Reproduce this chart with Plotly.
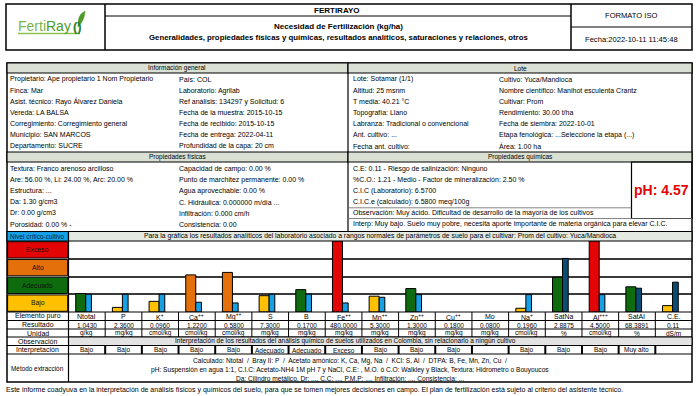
import plotly.graph_objects as go

W, H = 697, 396
FONT = "Liberation Sans, Arial, sans-serif"

# ---------------- data ----------------
elements = ["Ntotal", "P", "K<sup>+</sup>", "Ca<sup>++</sup>", "Mg<sup>++</sup>", "S", "B",
            "Fe<sup>++</sup>", "Mn<sup>++</sup>", "Zn<sup>++</sup>", "Cu<sup>++</sup>", "Mo",
            "Na<sup>+</sup>", "SatNa", "Al<sup>+++</sup>", "SatAl", "C.E."]
results = ["1.0430", "2.3600", "0.0960", "1.2200", "0.5800", "7.3000", "0.1700", "480.0000",
           "5.3000", "1.3000", "0.1800", "0.0800", "0.1960", "2.8875", "4.5000", "68.3891", "0.11"]
units = ["g/kg", "mg/kg", "cmol/kg", "cmol/kg", "cmol/kg", "mg/kg", "mg/kg", "mg/kg", "mg/kg",
         "mg/kg", "mg/kg", "mg/kg", "cmol/kg", "%", "cmol/kg", "%", "dS/m"]
interpretation = ["Bajo", "Bajo", "Bajo", "Bajo", "Bajo", "Adecuado", "Adecuado", "Exceso", "Bajo",
                  "Bajo", "Bajo", "", "Bajo", "Bajo", "Bajo", "Muy alto", ""]
# bar heights on the critical-level scale (0-1 Bajo, 1-2 Adecuado, 2-3 Alto, 3-4 Exceso)
sample_level = [1.04, 0.26, 0.60, 2.09, 2.23, 0.92, 1.26, 4.00, 0.89, 1.32, None, None,
                0.21, 1.96, 4.00, 1.42, 0.36]
reference_level = [1.00, 1.00, 1.00, 0.55, 0.51, 1.00, 1.00, 0.51, 0.83, 0.98, None, None,
                   0.98, 3.02, 0.98, 1.34, 1.68]
levels = ["Bajo", "Adecuado", "Alto", "Exceso"]

info_left = ["Propietario: Ape propietario 1 Nom Propietario", "Finca: Mar",
             "Asist. técnico: Rayo Álvarez Daniela", "Vereda: LA BALSA",
             "Corregimiento: Corregimiento general", "Municipio: SAN MARCOS", "Departamento: SUCRE"]
info_right = ["País: COL", "Laboratorio: Agrilab", "Ref análisis: 134297 y Solicitud: 6",
              "Fecha de la muestra: 2015-10-15", "Fecha de recibido: 2015-10-15",
              "Fecha de entrega: 2022-04-11", "Profundidad de la capa: 20 cm"]
lote_left = ["Lote: Sotamar (1/1)", "Altitud: 25 msnm", "T media: 40.21 °C", "Topografía: Llano",
             "Labranza: Tradicional o convencional", "Ant. cultivo: ...", "Fecha ant. cultivo:"]
lote_right = ["Cultivo: Yuca/Mandioca", "Nombre científico: Manihot esculenta Crantz",
              "Cultivar: Prom", "Rendimiento: 30.00 t/ha", "Fecha de siembra: 2022-10-01",
              "Etapa fenológica: ...Seleccione la etapa (...)", "Área: 1.00 ha"]
phys_left = ["Textura: Franco arenoso arcilloso", "Are: 56.00 %, Li: 24.00 %, Arc: 20.00 %",
             "Estructura: ...", "Da: 1.30 g/cm3", "Dr: 0.00 g/cm3", "Porosidad: 0.00 % -"]
phys_right = ["Capacidad de campo: 0.00 %", "Punto de marchitez permanente: 0.00 %",
              "Agua aprovechable: 0.00 %", "C. Hidráulica: 0.000000 m/día ...",
              "Infiltración: 0.000 cm/h", "Consistencia: 0.00"]
chem_lines = ["C.E: 0.11 - Riesgo de salinización: Ninguno",
              "%C.O.: 1.21 - Medio - Factor de mineralización: 2.50 %",
              "C.I.C (Laboratorio): 6.5700", "C.I.C.e (calculado): 6.5800 meq/100g",
              "Observación: Muy ácido. Dificultad de desarrollo de la mayoría de los cultivos",
              "Interp: Muy bajo. Suelo muy pobre, necesita aporte importante de materia orgánica para elevar C.I.C."]
ph_text = "pH: 4.57"
method_lines = ["Calculado: Ntotal  /  Bray II: P  /  Acetato amónico: K, Ca, Mg, Na  /  KCl: S, Al  /  DTPA: B, Fe, Mn, Zn, Cu  /",
                "pH: Suspensión en agua 1:1, C.I.C: Acetato-NH4 1M pH 7 y NaCl, C.E: , M.O. ó C.O: Walkley y Black, Textura: Hidrometro o Bouyoucos",
                "Da: Cilindro metálico, Dr: ..., C.C: ..., P.M.P: ..., Infiltración: ..., Consistencia: ..."]
chart_title = "Para la gráfica los resultados analíticos del laboratorio asociado a rangos normales de parámetros de suelo para el cultivar: Prom del cultivo: Yuca/Mandioca"
observation_text = "Interpretación de los resultados del análisis químico de suelos utilizados en Colombia, sin relacionarlo a ningún cultivo"
footer = "Este informe coadyuva en la interpretación de análisis físicos y químicos del suelo, para que se tomen mejores decisiones en campo. El plan de fertilización está sujeto al criterio del asistente técnico."

# ---------------- styles ----------------
LEVEL_COLORS = {"Bajo": "#ffc000", "Adecuado": "#0e6b0e", "Alto": "#e4700b", "Exceso": "#e30505"}
LIGHT_BLUE = "#16a0e6"
DARK_BLUE = "#0b4c73"
DARK_REF = {"SatNa", "SatAl", "C.E."}
HEAD_FILL = "#dae1d4"


def X(px):
    return px / W


def Y(py):
    return 1 - py / H


shapes = []
annotations = []


def rect(x0, y0, x1, y1, fill=None, lw=1.0, lc="black"):
    shapes.append(dict(type="rect", xref="paper", yref="paper", x0=X(x0), x1=X(x1), y0=Y(y1), y1=Y(y0),
                       line=dict(color=lc, width=lw), fillcolor=fill if fill else "rgba(0,0,0,0)"))


def line(x0, y0, x1, y1, lw=1.0, color="black"):
    shapes.append(dict(type="line", xref="paper", yref="paper", x0=X(x0), x1=X(x1), y0=Y(y0), y1=Y(y1),
                       line=dict(color=color, width=lw)))


def text(x, y, s, size=7, anchor="left", bold=False, color="black"):
    annotations.append(dict(xref="paper", yref="paper", x=X(x), y=Y(y), text=("<b>%s</b>" % s) if bold else s,
                            showarrow=False, xanchor=anchor, yanchor="middle", borderpad=0,
                            font=dict(size=size, color=color, family=FONT)))


L, R = 7, 692
LC = 68.5                     # label column right edge
NCOL = len(elements)
CW = (R - LC) / NCOL
MID = 348

# ---------------- header ----------------
rect(6, 4, R, 50, lw=1.5)
line(105, 4, 105, 50, lw=1.5)
line(571, 4, 571, 50, lw=1.5)
line(105, 16, 571, 16, lw=1.0)
line(571, 27, R, 27, lw=1.0)
text(337, 10.3, "FERTIRAYO", size=8, anchor="center", bold=True)
text(338, 27, "Necesidad de Fertilización (kg/ha)", size=8, anchor="center", bold=True)
text(338, 37.8, "Generalidades, propiedades físicas y químicas, resultados analíticos, saturaciones y relaciones, otros",
     size=7.8, anchor="center", bold=True)
text((571 + R) / 2, 15.5, "FORMATO ISO", size=7.6, anchor="center")
text((571 + R) / 2, 39, "Fecha:2022-10-11 11:45:48", size=7.6, anchor="center")
# logo
annotations.append(dict(xref="paper", yref="paper", x=X(17), y=Y(26), xanchor="left", yanchor="middle",
                        showarrow=False, borderpad=0,
                        text="<span style='color:#7ab648'>Ferti</span><span style='color:#4e9a2a'>Ray</span>",
                        font=dict(size=14, family=FONT)))
text(77.5, 26.5, "()", size=13, anchor="center", bold=True, color="#2f7d1f")
shapes.append(dict(type="path", xref="paper", yref="paper",
                   path="M %f %f Q %f %f %f %f Q %f %f %f %f Z" % (
                       X(78), Y(27), X(77), Y(15), X(85), Y(11), X(85), Y(20), X(78), Y(27)),
                   fillcolor="#4e9a2a", line=dict(color="#4e9a2a", width=0.5)))
line(18, 33.5, 80, 33.5, lw=1.5, color="#8cc152")

# ---------------- body frame ----------------
rect(L, 63, R, 382, lw=1.5)
line(MID, 63, MID, 231.5, lw=1.2)
for (y0, y1, a, b) in [(63, 73, "Información general", "Lote"), (152, 162, "Propiedades físicas", "Propiedades químicas")]:
    rect(L, y0, MID, y1, fill=HEAD_FILL, lw=1.2)
    rect(MID, y0, R, y1, fill=HEAD_FILL, lw=1.2)
    text((L + MID) / 2, (y0 + y1) / 2, a, size=6.5, anchor="center")
    text((MID + R) / 2, (y0 + y1) / 2, b, size=6.5, anchor="center")

for i in range(7):
    yy = 79.5 + 11.1 * i
    text(9, yy, info_left[i])
    text(178, yy, info_right[i])
    text(352, yy, lote_left[i])
    text(498, yy, lote_right[i])
for i in range(6):
    yy = 168.8 + 11.1 * i
    text(9, yy, phys_left[i])
    text(178, yy, phys_right[i])
    text(352, yy, chem_lines[i])

# pH box and rules in chemical block
rect(631.5, 162, R, 218.5, lw=1.2)
line(MID, 207.8, 631.5, 207.8, lw=0.8, color="#666666")
line(MID, 218.5, R, 218.5, lw=0.8, color="#666666")
text((631.5 + R) / 2, 190, ph_text, size=14, anchor="center", bold=True, color="#e30505")

# ---------------- chart header row ----------------
rect(L, 231.5, LC, 241, fill=LIGHT_BLUE, lw=1.2)
rect(LC, 231.5, R, 241, fill="#e4eae1", lw=1.2)
text((L + LC) / 2, 236.3, "Nivel crítico-cultivo", size=6.5, anchor="center", color="#0a2540")
text((LC + R) / 2, 236.3, chart_title, size=6.8, anchor="center")

# level legend column
CH_TOP, CH_BOT = 241, 312
step = (CH_BOT - CH_TOP) / len(levels)
for k, lev in enumerate(levels):
    yb = CH_BOT - k * step
    yt = yb - step
    rect(L + 0.6, yt + 0.7, LC - 0.8, yb - 0.7, fill=LEVEL_COLORS[lev], lw=1.0)
    text((L + LC) / 2, (yt + yb) / 2, lev, size=6.8, anchor="center", color="#111111")
line(LC, CH_TOP, LC, CH_BOT, lw=1.2)

# ---------------- table ----------------
rows = [312, 320.5, 329, 337, 345.5, 354, 382]
for yb in rows[:-1]:
    line(L, yb, R, yb, lw=1.0)
rect(LC, 337, R, 345.5, fill="#e3e3e3", lw=1.0)
line(LC, 312, LC, 382, lw=1.2)
for k in range(1, NCOL):
    xx = LC + k * CW
    line(xx, 312, xx, 337, lw=1.0)
    line(xx, 345.5, xx, 354, lw=2.0)
labels = ["Elemento puro", "Resultado", "Unidad", "Observación", "Interpretación"]
for r, lab in enumerate(labels):
    text((L + LC) / 2, (rows[r] + rows[r + 1]) / 2, lab, size=7, anchor="center")
text((L + LC) / 2, 368, "Método extracción", size=6.4, anchor="center")
for k in range(NCOL):
    cx = LC + (k + 0.5) * CW
    text(cx, 316.5, elements[k], size=7, anchor="center")
    text(cx, 325, results[k], size=6.5, anchor="center")
    text(cx, 333, units[k], size=6.5, anchor="center")
    if interpretation[k]:
        text(cx, 350, interpretation[k], size=6.5, anchor="center")
text(345, 341.3, observation_text, size=6.5, anchor="center")
for i, ml in enumerate(method_lines):
    text(350, 361 + 8.8 * i, ml, size=6.6, anchor="center")
text(5, 390, footer, size=7, anchor="left")

# ---------------- bars ----------------
def level_of(v):
    return levels[min(int(v), 3)]

sample_colors = [LEVEL_COLORS[level_of(v)] if v is not None else "white" for v in sample_level]
ref_colors = [DARK_BLUE if e in DARK_REF else LIGHT_BLUE for e in elements]

fig = go.Figure()
fig.add_bar(x=elements, y=sample_level, width=0.273, offset=-0.303,
            marker=dict(color=sample_colors, line=dict(color="black", width=1)), hoverinfo="skip")
fig.add_bar(x=elements, y=reference_level, width=0.155, offset=-0.03,
            marker=dict(color=ref_colors, line=dict(color="black", width=1)), hoverinfo="skip")

fig.update_layout(
    width=W, height=H, autosize=False,
    margin=dict(l=0, r=0, t=0, b=0, pad=0),
    paper_bgcolor="white", plot_bgcolor="white",
    showlegend=False, barmode="overlay",
    xaxis=dict(domain=[X(LC), X(R)], range=[-0.5, NCOL - 0.5], type="category",
               showgrid=False, showticklabels=False, ticks="", zeroline=False, showline=False),
    yaxis=dict(domain=[Y(CH_BOT), Y(CH_TOP)], range=[0, 4], showgrid=True, dtick=1, tick0=0,
               gridcolor="#3a3a3a", gridwidth=1.5, showticklabels=False, ticks="",
               zeroline=False, showline=False),
    shapes=shapes, annotations=annotations,
    font=dict(family=FONT),
)
fig.write_html("out.html", config={"displayModeBar": False},
               post_script="document.body.style.margin='0';document.body.style.overflow='hidden';")
